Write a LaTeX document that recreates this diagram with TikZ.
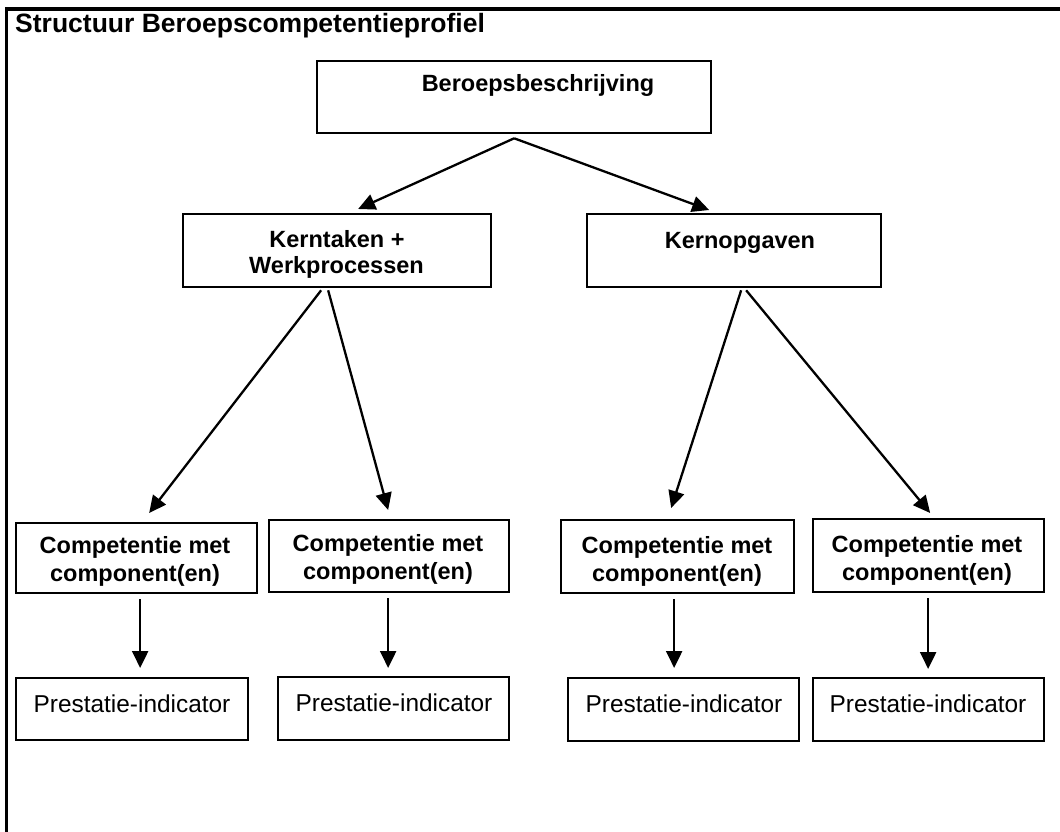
\documentclass[tikz,border=0pt]{standalone}
\usepackage{fontspec}
\setmainfont{Liberation Sans}
\usetikzlibrary{arrows.meta}
\begin{document}
\begin{tikzpicture}[x=1pt,y=-1pt,
  box/.style={draw, line width=2.3pt, inner sep=0pt, anchor=north west},
  arr/.style={line width=2.3pt, -{Triangle[length=17pt,width=16pt]}},
  bl/.style={font=\fontsize{23.5}{28}\selectfont\bfseries, anchor=base, inner sep=0pt},
  rg/.style={font=\fontsize{24.4}{28}\selectfont, anchor=base, inner sep=0pt},
  ttl/.style={font=\fontsize{26.5}{30}\selectfont\bfseries, anchor=base west, inner sep=0pt}]
\useasboundingbox (0,0) rectangle (1060,832);
% frame (only top and left visible)
\draw[line width=3.5pt] (6.5,832) -- (6.5,9) -- (1060,9);
\node[ttl] (title) at (15,33) {Structuur Beroepscompetentieprofiel};
% boxes
\node[box, minimum width=394pt, minimum height=72pt] (ber) at (316,60) {};
\node[box, minimum width=308pt, minimum height=73pt] (kt) at (182,213) {};
\node[box, minimum width=294pt, minimum height=73pt] (ko) at (586,213) {};
\node[box, minimum width=241pt, minimum height=70pt] (c1) at (15,522) {};
\node[box, minimum width=240pt, minimum height=72pt] (c2) at (268,519) {};
\node[box, minimum width=233pt, minimum height=73pt] (c3) at (560,519) {};
\node[box, minimum width=231pt, minimum height=73pt] (c4) at (812,518) {};
\node[box, minimum width=232pt, minimum height=62pt] (p1) at (15,677) {};
\node[box, minimum width=231pt, minimum height=63pt] (p2) at (277,676) {};
\node[box, minimum width=231pt, minimum height=63pt] (p3) at (567,677) {};
\node[box, minimum width=231pt, minimum height=63pt] (p4) at (812,677) {};
% texts
\node[bl] (tber) at (538,92) {Beroepsbeschrijving};
\node[bl] (tkt1) at (337,247) {Kerntaken +};
\node[bl] (tkt2) at (336.5,273) {Werkprocessen};
\node[bl] (tko) at (740,248) {Kernopgaven};
\node[bl] (tc1a) at (135,553) {Competentie met};
\node[bl] (tc1b) at (135,581) {component(en)};
\node[bl] (tc2a) at (388,551) {Competentie met};
\node[bl] (tc2b) at (388,579) {component(en)};
\node[bl] (tc3a) at (677,553) {Competentie met};
\node[bl] (tc3b) at (677,581) {component(en)};
\node[bl] (tc4a) at (927,552) {Competentie met};
\node[bl] (tc4b) at (927,580) {component(en)};
\node[rg] (tp1) at (132,712) {Prestatie-indicator};
\node[rg] (tp2) at (394,711) {Prestatie-indicator};
\node[rg] (tp3) at (684,712) {Prestatie-indicator};
\node[rg] (tp4) at (928,712) {Prestatie-indicator};
% connectors
\draw[arr] ([yshift=-4pt]ber.south) -- ([xshift=21pt,yshift=4pt]kt.north);
\draw[arr] ([yshift=-4pt]ber.south) -- ([xshift=-25pt,yshift=3pt]ko.north);
\draw[arr] ([xshift=-16pt,yshift=-2pt]kt.south) -- ([xshift=12.5pt,yshift=9pt]c1.north);
\draw[arr] ([xshift=-9pt,yshift=-2pt]kt.south) -- ([xshift=-1pt,yshift=9pt]c2.north);
\draw[arr] ([xshift=7pt,yshift=-2pt]ko.south) -- ([xshift=-6.5pt,yshift=11pt]c3.north);
\draw[arr] ([xshift=12pt,yshift=-2pt]ko.south) -- ([xshift=1.5pt,yshift=5pt]c4.north);
\coordinate (a1) at ([xshift=3.5pt,yshift=-5pt]c1.south);
\coordinate (a2) at ([xshift=-1pt,yshift=-5pt]c2.south);
\coordinate (a3) at ([xshift=-3.5pt,yshift=-5pt]c3.south);
\coordinate (a4) at ([xshift=-0.5pt,yshift=-5pt]c4.south);
\draw[arr, shorten >=9pt] (a1) -- (a1 |- p1.north);
\draw[arr, shorten >=8pt] (a2) -- (a2 |- p2.north);
\draw[arr, shorten >=9pt] (a3) -- (a3 |- p3.north);
\draw[arr, shorten >=8pt] (a4) -- (a4 |- p4.north);
\end{tikzpicture}
\end{document}
